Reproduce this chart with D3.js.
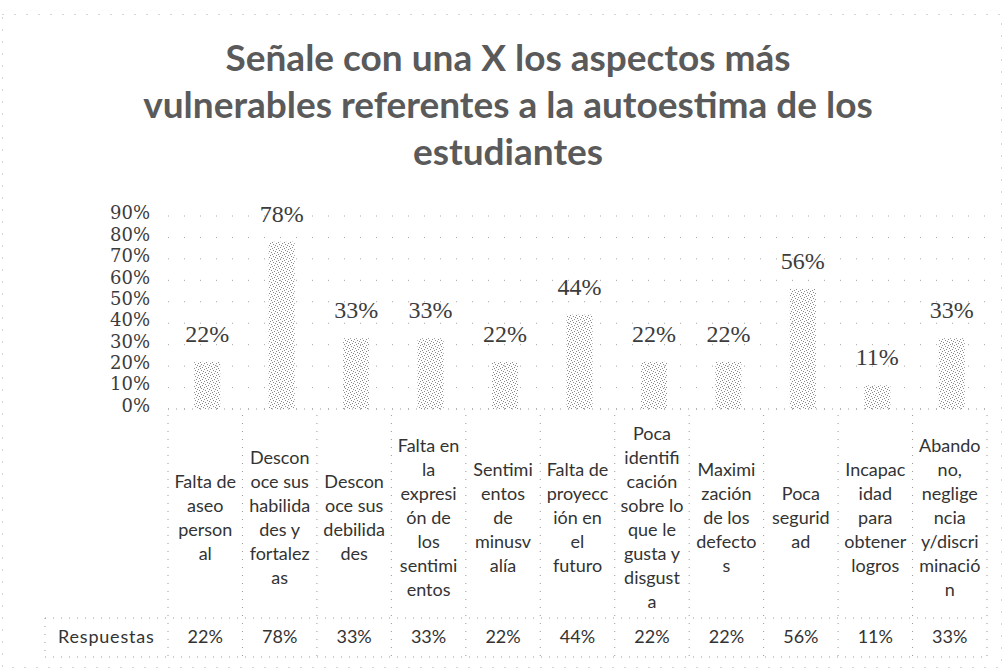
<!DOCTYPE html>
<html>
<head>
<meta charset="utf-8">
<script src="https://cdn.jsdelivr.net/npm/d3@7"></script>
<style>
  html, body { margin: 0; padding: 0; background: #fff; }
  svg { display: block; }
</style>
</head>
<body>
<svg id="chart" width="1005" height="671"></svg>
<script>
// ---- data ----
const titleLines = [
  "Señale con una X los aspectos más",
  "vulnerables referentes a la autoestima de los",
  "estudiantes"
];
const categories = [
  "Falta de aseo personal",
  "Desconoce sus habilidades y fortalezas",
  "Desconoce sus debilidades",
  "Falta en la expresión de los sentimientos",
  "Sentimientos de minusvalía",
  "Falta de proyección en el futuro",
  "Poca identificación sobre lo que le gusta y disgusta",
  "Maximización de los defectos",
  "Poca seguridad",
  "Incapacidad para obtener logros",
  "Abandono, negligencia y/discriminación"
];
const categoryLines = [
  ["Falta de", "aseo", "person", "al"],
  ["Descon", "oce sus", "habilida", "des y", "fortalez", "as"],
  ["Descon", "oce sus", "debilida", "des"],
  ["Falta en", "la", "expresi", "ón de", "los", "sentimi", "entos"],
  ["Sentimi", "entos", "de", "minusv", "alía"],
  ["Falta de", "proyecc", "ión en", "el", "futuro"],
  ["Poca", "identifi", "cación", "sobre lo", "que le", "gusta y", "disgust", "a"],
  ["Maximi", "zación", "de los", "defecto", "s"],
  ["Poca", "segurid", "ad"],
  ["Incapac", "idad", "para", "obtener", "logros"],
  ["Abando", "no,", "neglige", "ncia", "y/discri", "minació", "n"]
];
const seriesName = "Respuestas";
const values = [0.22, 0.78, 0.33, 0.33, 0.22, 0.44, 0.22, 0.22, 0.56, 0.11, 0.33];
const yTicks = [0, 0.1, 0.2, 0.3, 0.4, 0.5, 0.6, 0.7, 0.8, 0.9];

// ---- layout ----
const svg = d3.select("#chart");
const W = 1005, H = 671;
const plotLeft = 168, plotRight = 987, plotBottom = 409, plotTop = 216;
const tableBottom = 657, rowTop = 618, tableLeft = 45;
const pct = d3.format(".0%");

const x = d3.scaleBand().domain(categories).range([plotLeft, plotRight]).padding(0);
const y = d3.scaleLinear().domain([0, 0.9]).range([plotBottom, plotTop]);

// pattern for stippled bars
const defs = svg.append("defs");
const pat = defs.append("pattern").attr("id", "stipple")
  .attr("patternUnits", "userSpaceOnUse").attr("width", 6).attr("height", 6);
[[1,0],[4,1],[0,3],[3,4],[5,5],[2,2]].forEach(([px, py]) =>
  pat.append("rect").attr("x", px).attr("y", py).attr("width", 1).attr("height", 1).attr("fill", "#8a8a8a"));

// chart border (faint dotted)
svg.append("rect").attr("x", 2.5).attr("y", 14.5).attr("width", W - 6).attr("height", H - 18)
  .attr("fill", "none").attr("stroke", "#aaa").attr("stroke-dasharray", "1,11");

// title
svg.append("g").selectAll("text").data(titleLines).join("text")
  .attr("x", 508).attr("y", (d, i) => 71 + i * 47)
  .attr("text-anchor", "middle")
  .attr("font-family", "Lato, 'Open Sans', sans-serif")
  .attr("font-weight", "bold").attr("font-size", 37)
  .attr("fill", "#5a5a5a")
  .text(d => d);

// gridlines
svg.append("g").selectAll("line").data(yTicks).join("line")
  .attr("x1", plotLeft).attr("x2", plotRight)
  .attr("y1", d => y(d)).attr("y2", d => y(d))
  .attr("stroke", "#a5a5a5").attr("stroke-dasharray", "1,15");

// y axis
const yAxis = d3.axisLeft(y).tickValues(yTicks).tickFormat(pct).tickSize(0).tickPadding(0);
const gy = svg.append("g").attr("transform", "translate(150,0)").call(yAxis);
gy.select(".domain").remove();
gy.selectAll("text")
  .attr("font-family", "'DejaVu Serif', 'Liberation Serif', serif")
  .attr("font-size", 18).attr("fill", "#3c3c3c")
  .attr("dy", d => (0.3 - 0.18 + d * 0.05) + "em");

// bars
const bw = x.bandwidth() * 0.35;
svg.append("g").selectAll("rect").data(values).join("rect")
  .attr("x", (d, i) => x(categories[i]) + x.bandwidth() / 2 - bw / 2 + 2)
  .attr("y", d => y(d))
  .attr("width", bw)
  .attr("height", d => y(0) - y(d))
  .attr("fill", "url(#stipple)");

// data labels
svg.append("g").selectAll("text").data(values).join("text")
  .attr("x", (d, i) => x(categories[i]) + x.bandwidth() / 2 + 2)
  .attr("y", d => y(d) - 20)
  .attr("text-anchor", "middle")
  .attr("font-family", "'Liberation Serif', 'Times New Roman', serif")
  .attr("font-size", 24).attr("fill", "#3c3c3c")
  .text(d => pct(d));

// axis base (faint)
svg.append("line").attr("x1", plotLeft).attr("x2", plotRight)
  .attr("y1", plotBottom).attr("y2", plotBottom)
  .attr("stroke", "#999").attr("stroke-dasharray", "1,7");

// data table grid
const tableG = svg.append("g").attr("stroke", "#9a9a9a").attr("stroke-dasharray", "1,7").attr("fill", "none");
const bounds = categories.map(c => x(c)).concat([plotRight]);
tableG.selectAll("line.v").data(bounds).join("line").attr("class", "v")
  .attr("x1", d => d).attr("x2", d => d).attr("y1", plotBottom + 6).attr("y2", tableBottom);
tableG.append("line").attr("x1", tableLeft).attr("x2", plotRight).attr("y1", rowTop).attr("y2", rowTop);
tableG.append("line").attr("x1", tableLeft).attr("x2", plotRight).attr("y1", tableBottom).attr("y2", tableBottom);
tableG.append("line").attr("x1", tableLeft).attr("x2", tableLeft).attr("y1", rowTop).attr("y2", tableBottom);

// category labels (wrapped)
const lh = 24, headerCenter = 518;
const catG = svg.append("g")
  .attr("font-family", "Lato, 'Open Sans', sans-serif").attr("font-size", 18).attr("fill", "#333");
categories.forEach((c, i) => {
  const lines = categoryLines[i];
  const first = headerCenter - (lines.length - 1) * lh / 2;
  const t = catG.append("text").attr("text-anchor", "middle");
  lines.forEach((ln, j) => {
    t.append("tspan").attr("x", x(c) + x.bandwidth() / 2)
      .attr("y", first + j * lh).attr("dy", "0.35em").text(ln);
  });
});

// series row
svg.append("text").attr("x", 58).attr("y", 637).attr("dy", "0.35em")
  .attr("font-family", "Lato, 'Open Sans', sans-serif").attr("font-size", 18).attr("fill", "#333")
  .attr("letter-spacing", 0.8)
  .text(seriesName);
svg.append("g").selectAll("text").data(values).join("text")
  .attr("x", (d, i) => x(categories[i]) + x.bandwidth() / 2)
  .attr("y", 637).attr("dy", "0.35em").attr("text-anchor", "middle")
  .attr("font-family", "Lato, 'Open Sans', sans-serif").attr("font-size", 18).attr("fill", "#333")
  .text(d => pct(d));
</script>
</body>
</html>
